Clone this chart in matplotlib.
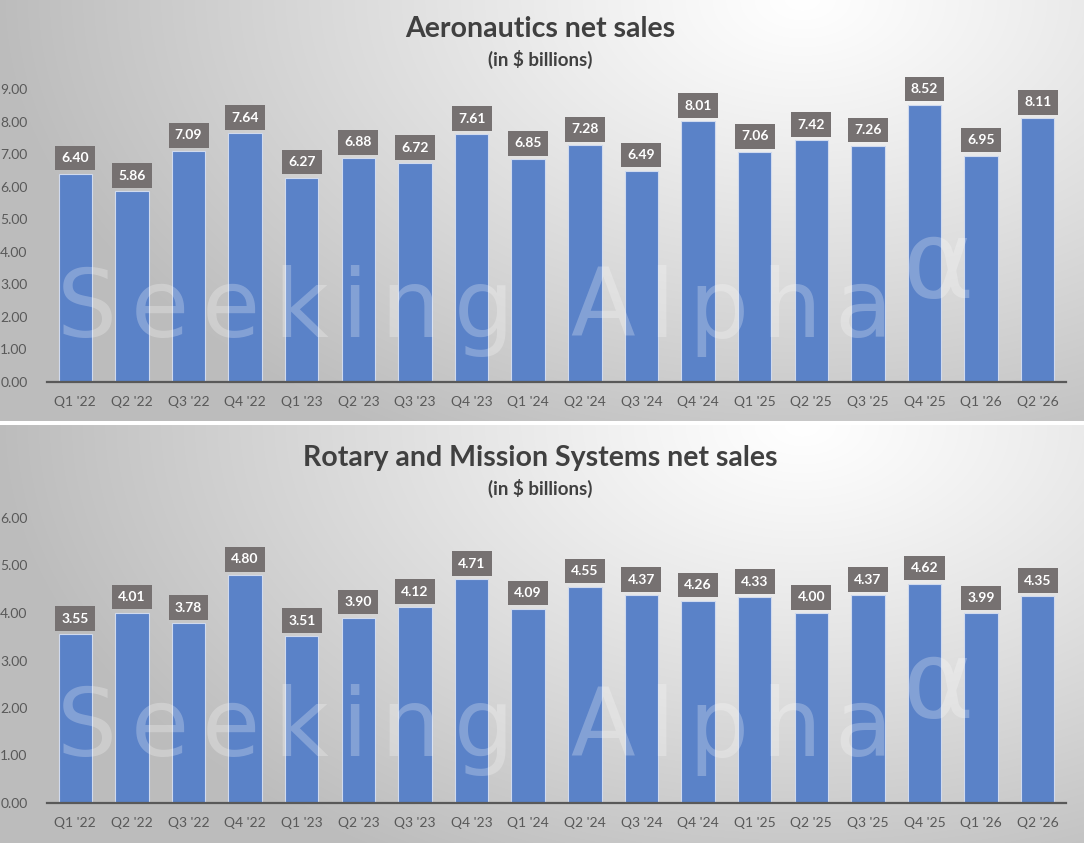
import numpy as np
import matplotlib
matplotlib.use("Agg")
import matplotlib.pyplot as plt
from matplotlib.textpath import TextPath
from matplotlib.font_manager import FontProperties

plt.rcParams['font.family'] = ['Lato', 'DejaVu Sans']

quarters = ["Q1 '22", "Q2 '22", "Q3 '22", "Q4 '22", "Q1 '23", "Q2 '23", "Q3 '23", "Q4 '23",
            "Q1 '24", "Q2 '24", "Q3 '24", "Q4 '24", "Q1 '25", "Q2 '25", "Q3 '25", "Q4 '25",
            "Q1 '26", "Q2 '26"]
aero_sales = [6.40, 5.86, 7.09, 7.64, 6.27, 6.88, 6.72, 7.61, 6.85, 7.28, 6.49, 8.01,
              7.06, 7.42, 7.26, 8.52, 6.95, 8.11]
rms_sales = [3.55, 4.01, 3.78, 4.80, 3.51, 3.90, 4.12, 4.71, 4.09, 4.55, 4.37, 4.26,
             4.33, 4.00, 4.37, 4.62, 3.99, 4.35]
titles = ["Aeronautics net sales", "Rotary and Mission Systems net sales"]
subtitle = "(in $ billions)"
watermark = "Seeking Alpha"
yticks_top = [0, 1, 2, 3, 4, 5, 6, 7, 8, 9]
yticks_bot = [0, 1, 2, 3, 4, 5, 6]

W, H = 1087, 843
fig = plt.figure(figsize=(W / 100, H / 100), dpi=100)
fig.patch.set_facecolor('white')

def px(x0, y0, x1, y1):
    return [x0 / W, 1 - y1 / H, (x1 - x0) / W, (y1 - y0) / H]

def background(rect_px):
    x0, y0, x1, y1 = rect_px
    bg = fig.add_axes(px(x0, y0, x1, y1), zorder=-10)
    w, h = x1 - x0, y1 - y0
    xx, yy = np.meshgrid(np.arange(w), np.arange(h))
    cx, cy = 0.74 * w, 0.0 * h
    d = np.sqrt(((xx - cx) / 800.0) ** 2 + ((yy - cy) / 500.0) ** 2)
    g = 1.0 - 0.26 * np.clip(d, 0, 1) ** 1.1
    img = np.dstack([g, g, g])
    bg.imshow(img, aspect='auto', extent=(0, 1, 0, 1), origin='upper')
    bg.set_axis_off()

panels = [(0, 0, 1084, 421), (0, 425, 1084, 843)]
for p in panels:
    background(p)

bar_color = '#5A82C8'
label_box = '#767171'
text_gray = '#595959'

wm_font = FontProperties(family='DejaVu Sans', weight='normal', size=68)

def tracked_text(x_px, y_px, s, x_end_px):
    # letter-spaced watermark spread between x_px and x_end_px
    tb = TextPath((0, 0), '|', prop=wm_font).get_extents()
    adv = []
    for ch in s:
        tp = TextPath((0, 0), ch + '|', prop=wm_font).get_extents()
        adv.append((tp.x1 - tb.x1) * 100 / 72)
    last_w = TextPath((0, 0), s[-1], prop=wm_font).get_extents().x1 * 100 / 72
    natural = sum(adv[:-1]) + last_w
    track = (x_end_px - x_px - natural) / (len(s) - 1)
    x = x_px
    for ch, a in zip(s, adv):
        if ch != ' ':
            fig.text(x / W, 1 - y_px / H, ch, ha='left', va='baseline', fontproperties=wm_font,
                     color='white', alpha=0.25, zorder=5)
        x += a + track

def draw(ax_rect, values, yticks, title, title_y, sub_y, wm_y, alpha_y, off):
    ax = fig.add_axes(px(*ax_rect))
    ax.set_facecolor('none')
    x = np.arange(len(values))
    ax.bar(x, values, width=0.59, color=bar_color, edgecolor='#D0DAEE', linewidth=0.8, zorder=2)
    ax.set_xlim(-0.5, len(values) - 0.5)
    ax.set_ylim(yticks[0], yticks[-1])
    ax.set_yticks(yticks)
    ax.set_yticklabels([f"{v:.2f}" for v in yticks])
    ax.set_xticks(x)
    ax.set_xticklabels(quarters)
    ax.tick_params(axis='both', length=0, labelsize=10, colors=text_gray)
    ax.tick_params(axis='y', pad=14)
    ax.tick_params(axis='x', pad=10)
    for s in ['top', 'right', 'left']:
        ax.spines[s].set_visible(False)
    ax.spines['bottom'].set_color('#595959')
    ax.spines['bottom'].set_linewidth(1.6)
    ax.spines['bottom'].set_zorder(3)
    for xi, v in zip(x, values):
        ax.annotate(f"{v:.2f}", (xi, v), xytext=(0, off), textcoords='offset points',
                    ha='center', va='bottom', color='white', fontsize=10, fontweight='bold',
                    bbox=dict(boxstyle='square,pad=0.45', fc=label_box, ec='none'), zorder=4)
    fig.text(540 / W, 1 - title_y / H, title, ha='center', va='center', fontsize=20.5,
             fontweight='bold', color='#404040')
    fig.text(540 / W, 1 - sub_y / H, subtitle, ha='center', va='center', fontsize=13.5,
             fontweight='bold', color='#404040')
    tracked_text(57, wm_y, watermark, 884)
    fig.text(903 / W, 1 - alpha_y / H, "α", ha='left', va='baseline', fontsize=78,
             color='white', alpha=0.25, zorder=5, family=['DejaVu Sans'])
    return ax

draw((47, 89, 1066, 382), aero_sales, yticks_top, titles[0], 29, 59, 337, 297, 7)
draw((47, 518, 1066, 803), rms_sales, yticks_bot, titles[1], 458, 488, 756, 717, 7)

fig.savefig('out.png', dpi=100)
